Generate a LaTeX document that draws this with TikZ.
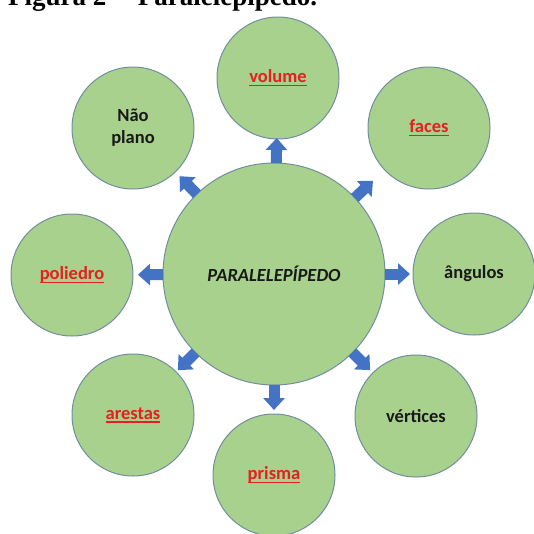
\documentclass[tikz,border=0pt]{standalone}
\usepackage{fontspec}
\setmainfont{Carlito}
\newfontfamily\titlefont{Liberation Serif}
\usetikzlibrary{arrows.meta,calc}

\definecolor{leaf}{RGB}{169,209,142}
\definecolor{rim}{RGB}{112,142,158}
\definecolor{arrowblue}{RGB}{68,114,196}
\definecolor{keyred}{RGB}{228,32,32}
\newsavebox{\keybox}
\newcommand{\keyword}[1]{\sbox{\keybox}{\color{keyred}#1}%
  {\color{keyred}\rlap{\rule[-3.5pt]{\wd\keybox}{1.3pt}}}\usebox{\keybox}}

\begin{document}
\begin{tikzpicture}[x=1pt,y=-1pt,
    bubble/.style={circle,draw=rim,fill=leaf,line width=1pt,inner sep=0pt,
      minimum size=122pt,align=center,text=black!90,
      font=\bfseries\fontsize{18.5}{22}\selectfont},
    hub/.style={bubble,minimum size=222pt}]
    \useasboundingbox (0,0) rectangle (534,533);
    %% Draw the title
    \node[anchor=base west,inner sep=0pt,
      font=\titlefont\bfseries\fontsize{27}{30}\selectfont] (title) at (8,5)
      {Figura 2 -- Paralelepípedo.};
    %% Draw the nodes
    \node[hub] (P) at (274,274) {\textit{PARALELEPÍPEDO}};
    \node[bubble] (volume) at (278,78) {\keyword{volume}};
    \node[bubble] (faces) at (429,128) {\keyword{faces}};
    \node[bubble] (angulos) at (474,274) {ângulos};
    \node[bubble] (vertices) at (416,416) {vértices};
    \node[bubble] (prisma) at (274,475) {\keyword{prisma}};
    \node[bubble] (arestas) at (133,415) {\keyword{arestas}};
    \node[bubble] (poliedro) at (72,275) {\keyword{poliedro}};
    \node[bubble] (naoplano) at (133,128) {Não\\plano};
    %% Draw the arrows
    \begin{scope}[every path/.style={draw=arrowblue,line width=11pt,
        -{Triangle[width=21pt,length=12pt]}}]
      \draw ($(P)!111pt!(volume)$) -- ($(P)!136pt!(volume)$);
      \draw ($(P)!111pt!(faces)$) -- ($(P)!136pt!(faces)$);
      \draw ($(P)!111pt!(angulos)$) -- ($(P)!136pt!(angulos)$);
      \draw ($(P)!111pt!(vertices)$) -- ($(P)!136pt!(vertices)$);
      \draw ($(P)!111pt!(prisma)$) -- ($(P)!136pt!(prisma)$);
      \draw ($(P)!111pt!(arestas)$) -- ($(P)!136pt!(arestas)$);
      \draw ($(P)!111pt!(poliedro)$) -- ($(P)!136pt!(poliedro)$);
      \draw ($(P)!111pt!(naoplano)$) -- ($(P)!136pt!(naoplano)$);
    \end{scope}
\end{tikzpicture}
\end{document}
